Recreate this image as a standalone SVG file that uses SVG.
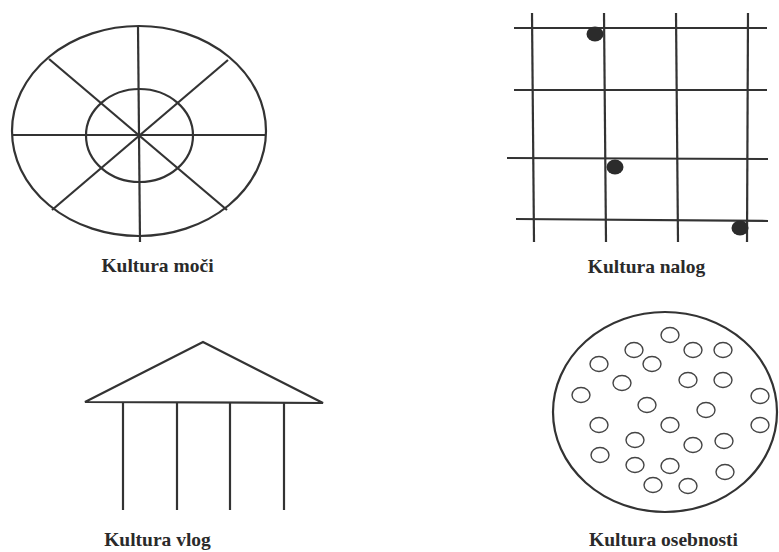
<svg xmlns="http://www.w3.org/2000/svg" width="779" height="552" viewBox="0 0 779 552">
<style>
.ln{stroke:#333;stroke-width:2.2;fill:none;stroke-linecap:butt}
.sm{stroke:#444;stroke-width:1.4;fill:none}
.dot{fill:#2b2b2b}
.lbl{font-family:"Liberation Serif","Times New Roman",serif;font-weight:bold;font-size:19.5px;fill:#2a2a2a;text-anchor:middle}
</style>
<rect width="779" height="552" fill="#fff"/>
<g id="kultura-moci">
<ellipse class="ln" cx="139" cy="131" rx="127" ry="105"/>
<ellipse class="ln" cx="139.5" cy="135.5" rx="53.5" ry="46.5"/>
<line class="ln" x1="138" y1="27" x2="140" y2="242"/>
<line class="ln" x1="12" y1="135" x2="266" y2="135"/>
<line class="ln" x1="49" y1="59" x2="227" y2="210"/>
<line class="ln" x1="228" y1="60" x2="52" y2="210"/>
<text class="lbl" x="157.5" y="272">Kultura moči</text>
</g>
<g id="kultura-nalog">
<line class="ln" x1="532" y1="13" x2="534" y2="242"/>
<line class="ln" x1="604" y1="13" x2="606" y2="242"/>
<line class="ln" x1="676" y1="13" x2="678" y2="242"/>
<line class="ln" x1="748" y1="13" x2="747" y2="242"/>
<line class="ln" x1="514" y1="28" x2="767" y2="28"/>
<line class="ln" x1="514" y1="90" x2="767" y2="90"/>
<line class="ln" x1="507" y1="158" x2="768" y2="159"/>
<line class="ln" x1="516" y1="219" x2="768" y2="221"/>
<ellipse class="dot" cx="595" cy="34" rx="8.5" ry="7.5"/>
<ellipse class="dot" cx="615" cy="167" rx="8.5" ry="7.5"/>
<ellipse class="dot" cx="740" cy="228" rx="8.5" ry="7.5"/>
<text class="lbl" x="646.5" y="273">Kultura nalog</text>
</g>
<g id="kultura-vlog">
<polygon class="ln" points="203,342 85,402 323,403"/>
<line class="ln" x1="123" y1="403" x2="123" y2="510"/>
<line class="ln" x1="177" y1="403" x2="177" y2="510"/>
<line class="ln" x1="230" y1="403" x2="230" y2="510"/>
<line class="ln" x1="284" y1="403" x2="284" y2="510"/>
<text class="lbl" x="157.5" y="546">Kultura vlog</text>
</g>
<g id="kultura-osebnosti">
<ellipse class="ln" cx="665" cy="412" rx="112" ry="100"/>
<g class="sm">
<ellipse cx="670" cy="335" rx="9" ry="7.5"/>
<ellipse cx="634" cy="350" rx="9" ry="7.5"/>
<ellipse cx="693" cy="350" rx="9" ry="7.5"/>
<ellipse cx="723" cy="350" rx="9" ry="7.5"/>
<ellipse cx="599" cy="364" rx="9" ry="7.5"/>
<ellipse cx="652" cy="364" rx="9" ry="7.5"/>
<ellipse cx="622" cy="383" rx="9" ry="7.5"/>
<ellipse cx="688" cy="380" rx="9" ry="7.5"/>
<ellipse cx="723" cy="380" rx="9" ry="7.5"/>
<ellipse cx="581" cy="395" rx="9" ry="7.5"/>
<ellipse cx="760" cy="396" rx="9" ry="7.5"/>
<ellipse cx="647" cy="405" rx="9" ry="7.5"/>
<ellipse cx="706" cy="410" rx="9" ry="7.5"/>
<ellipse cx="599" cy="425" rx="9" ry="7.5"/>
<ellipse cx="670" cy="425" rx="9" ry="7.5"/>
<ellipse cx="760" cy="425" rx="9" ry="7.5"/>
<ellipse cx="635" cy="440" rx="9" ry="7.5"/>
<ellipse cx="693" cy="445" rx="9" ry="7.5"/>
<ellipse cx="724" cy="441" rx="9" ry="7.5"/>
<ellipse cx="600" cy="455" rx="9" ry="7.5"/>
<ellipse cx="635" cy="465" rx="9" ry="7.5"/>
<ellipse cx="670" cy="466" rx="9" ry="7.5"/>
<ellipse cx="725" cy="472" rx="9" ry="7.5"/>
<ellipse cx="653" cy="485" rx="9" ry="7.5"/>
<ellipse cx="688" cy="486" rx="9" ry="7.5"/>
</g>
<text class="lbl" x="663.5" y="546">Kultura osebnosti</text>
</g>
</svg>
